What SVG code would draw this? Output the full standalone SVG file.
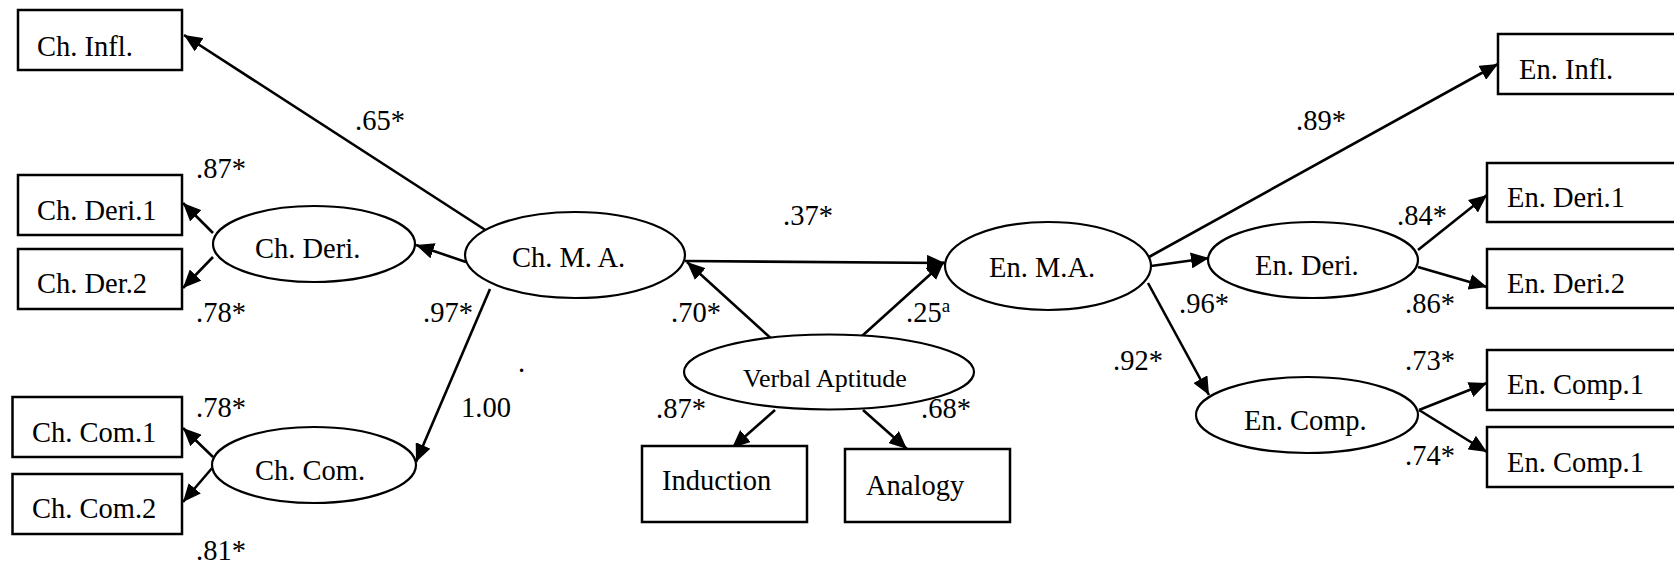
<svg xmlns="http://www.w3.org/2000/svg" width="1674" height="568" viewBox="0 0 1674 568">
<style>
.box{fill:#fff;stroke:#000;stroke-width:2.5}
.ell{fill:#fff;stroke:#000;stroke-width:2.2}
.t{font-family:"Liberation Serif","Times New Roman",serif;font-size:28.5px;fill:#000}
.va{font-size:26px}
.sup{font-size:19px}
.edge{stroke:#000;stroke-width:2.6;fill:none;marker-end:url(#ah)}
</style>
<defs>
<marker id="ah" markerUnits="userSpaceOnUse" markerWidth="19" markerHeight="16" refX="18" refY="8" orient="auto">
<path d="M0,0 L18,8 L0,16 z" fill="#000"/>
</marker>
</defs>
<rect width="1674" height="568" fill="#fff"/>
<g id="connectors">
<line class="edge" x1="490" y1="233" x2="184" y2="35"/>
<line class="edge" x1="466" y1="262" x2="416" y2="245"/>
<line class="edge" x1="490" y1="289" x2="416" y2="462"/>
<line class="edge" x1="213" y1="233" x2="183" y2="203"/>
<line class="edge" x1="213" y1="257" x2="183" y2="288"/>
<line class="edge" x1="213" y1="457" x2="183" y2="428"/>
<line class="edge" x1="213" y1="467" x2="183" y2="502"/>
<line class="edge" x1="685" y1="261" x2="945" y2="263"/>
<line class="edge" x1="775" y1="342" x2="687" y2="262"/>
<line class="edge" x1="862" y1="336" x2="944" y2="262"/>
<line class="edge" x1="775" y1="410" x2="732" y2="448"/>
<line class="edge" x1="863" y1="410" x2="907" y2="449"/>
<line class="edge" x1="1149" y1="257" x2="1498" y2="64"/>
<line class="edge" x1="1151" y1="266" x2="1209" y2="258"/>
<line class="edge" x1="1148" y1="283" x2="1209" y2="395"/>
<line class="edge" x1="1418" y1="250" x2="1487" y2="195"/>
<line class="edge" x1="1418" y1="267" x2="1487" y2="287"/>
<line class="edge" x1="1419" y1="410" x2="1487" y2="383"/>
<line class="edge" x1="1419" y1="410" x2="1487" y2="452"/>
</g>
<g id="ch-infl"><rect class="box" x="18" y="10" width="164" height="60"/><text class="t" x="37" y="56">Ch. Infl.</text></g>
<g id="ch-deri1"><rect class="box" x="18" y="175" width="164" height="60"/><text class="t" x="37" y="220">Ch. Deri.1</text></g>
<g id="ch-der2"><rect class="box" x="18" y="249" width="164" height="60"/><text class="t" x="37" y="293">Ch. Der.2</text></g>
<g id="ch-com1"><rect class="box" x="12.5" y="397" width="169.5" height="60"/><text class="t" x="32" y="442">Ch. Com.1</text></g>
<g id="ch-com2"><rect class="box" x="12.5" y="474" width="169.5" height="60"/><text class="t" x="32" y="518">Ch. Com.2</text></g>
<g id="induction"><rect class="box" x="642" y="446" width="165" height="76"/><text class="t" x="662" y="490">Induction</text></g>
<g id="analogy"><rect class="box" x="845" y="449" width="165" height="73"/><text class="t" x="866" y="495">Analogy</text></g>
<g id="en-infl"><rect class="box" x="1498" y="34" width="180" height="60"/><text class="t" x="1519" y="79">En. Infl.</text></g>
<g id="en-deri1"><rect class="box" x="1487" y="163" width="190" height="59"/><text class="t" x="1507" y="207">En. Deri.1</text></g>
<g id="en-deri2"><rect class="box" x="1487" y="249" width="190" height="59"/><text class="t" x="1507" y="293">En. Deri.2</text></g>
<g id="en-comp1a"><rect class="box" x="1487" y="350" width="190" height="60"/><text class="t" x="1507" y="394">En. Comp.1</text></g>
<g id="en-comp1b"><rect class="box" x="1487" y="427" width="190" height="60"/><text class="t" x="1507" y="472">En. Comp.1</text></g>
<g id="ch-deri"><ellipse class="ell" cx="314" cy="244" rx="101" ry="38"/><text class="t" x="255" y="258">Ch. Deri.</text></g>
<g id="ch-ma"><ellipse class="ell" cx="575" cy="255" rx="110" ry="43"/><text class="t" x="512" y="267">Ch. M. A.</text></g>
<g id="ch-com"><ellipse class="ell" cx="314" cy="465" rx="102" ry="38"/><text class="t" x="255" y="480">Ch. Com.</text></g>
<g id="verbal"><ellipse class="ell" cx="829" cy="372" rx="145" ry="37.5"/><text class="t va" x="743" y="387">Verbal Aptitude</text></g>
<g id="en-ma"><ellipse class="ell" cx="1048" cy="266" rx="103" ry="44"/><text class="t" x="989" y="277">En. M.A.</text></g>
<g id="en-deri"><ellipse class="ell" cx="1313" cy="260" rx="105" ry="38"/><text class="t" x="1255" y="275">En. Deri.</text></g>
<g id="en-comp"><ellipse class="ell" cx="1307" cy="415" rx="111" ry="38"/><text class="t" x="1244" y="430">En. Comp.</text></g>
<g id="labels">
<text class="t" x="355" y="130">.65*</text>
<text class="t" x="196" y="178">.87*</text>
<text class="t" x="196" y="322">.78*</text>
<text class="t" x="423" y="322">.97*</text>
<text class="t" x="518" y="372">.</text>
<text class="t" x="461" y="417">1.00</text>
<text class="t" x="196" y="417">.78*</text>
<text class="t" x="196" y="560">.81*</text>
<text class="t" x="783" y="225">.37*</text>
<text class="t" x="671" y="322">.70*</text>
<text class="t" x="906" y="322">.25<tspan class="sup" dy="-10">a</tspan></text>
<text class="t" x="656" y="418">.87*</text>
<text class="t" x="921" y="418">.68*</text>
<text class="t" x="1296" y="130">.89*</text>
<text class="t" x="1397" y="225">.84*</text>
<text class="t" x="1179" y="313">.96*</text>
<text class="t" x="1405" y="313">.86*</text>
<text class="t" x="1113" y="370">.92*</text>
<text class="t" x="1405" y="370">.73*</text>
<text class="t" x="1405" y="465">.74*</text>
</g>
</svg>
